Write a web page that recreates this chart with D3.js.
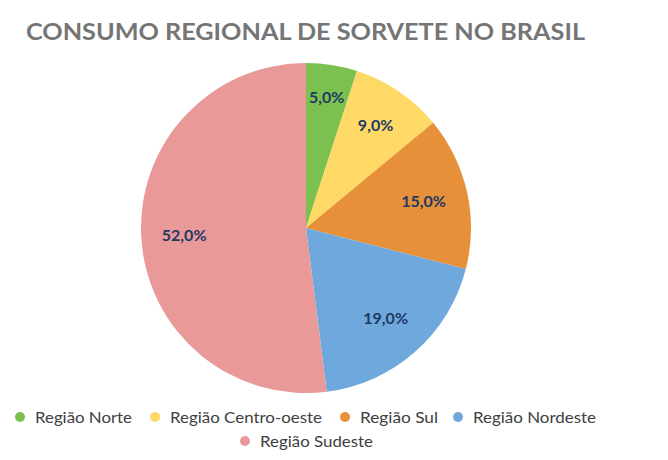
<!DOCTYPE html>
<html><head><meta charset="utf-8">
<script src="https://cdn.jsdelivr.net/npm/d3@7"></script>
<style>body{margin:0;background:#fff}svg{display:block}</style>
</head><body>
<script>
const categories = ["Região Norte","Região Centro-oeste","Região Sul","Região Nordeste","Região Sudeste"];
const values = [5.0, 9.0, 15.0, 19.0, 52.0];
const colors = ["#7cc04f","#ffd966","#e6913a","#6fa8dc","#ea9999"];
const title = "CONSUMO REGIONAL DE SORVETE NO BRASIL";

const W=668,H=460;
const svg=d3.select("body").append("svg").attr("width",W).attr("height",H);
svg.append("text").attr("x",26).attr("y",39.5).text(title)
  .attr("font-family","Lato, 'Open Sans', sans-serif").attr("font-weight","bold")
  .attr("font-size",23.5).attr("fill","#757575").attr("textLength",559).attr("lengthAdjust","spacingAndGlyphs");

const cx=306,cy=228,r=165;
const labelR=[0.80,0.75,0.73,0.73,0.74]; // layout: label radius fraction per slice
const data=categories.map((c,i)=>({c,v:values[i],col:colors[i],lr:labelR[i]}));
const pie=d3.pie().value(d=>d.v).sort(null);
const arc=d3.arc().innerRadius(0).outerRadius(r);
const g=svg.append("g").attr("transform",`translate(${cx},${cy})`);
const arcs=pie(data);
g.selectAll("path").data(arcs).join("path").attr("d",arc).attr("fill",d=>d.data.col);
const fmt=v=>v.toFixed(1).replace(".",",")+"%";
g.selectAll("text").data(arcs).join("text")
  .attr("transform",d=>{const a=d3.arc().innerRadius(r*d.data.lr).outerRadius(r*d.data.lr);return `translate(${a.centroid(d)})`;})
  .attr("text-anchor","middle").attr("dy","0.36em")
  .attr("font-family","Lato, 'Open Sans', sans-serif").attr("font-weight","bold")
  .attr("font-size",16).attr("fill","#203864").text(d=>fmt(d.data.v));

// legend layout (pixel positions and text widths)
const leg=[{x:20,y:417,w:97},{x:155,y:417,w:152},{x:345,y:417,w:78},{x:458,y:417,w:123},{x:245,y:441,w:113}];
const lg=svg.append("g");
data.forEach((d,i)=>{
  const p=leg[i];
  lg.append("circle").attr("cx",p.x).attr("cy",p.y).attr("r",5).attr("fill",d.col);
  lg.append("text").attr("x",p.x+15).attr("y",p.y).attr("dy","0.36em")
    .attr("font-family","Lato, 'Open Sans', sans-serif").attr("font-size",16).attr("fill","#404040")
    .attr("textLength",p.w).attr("lengthAdjust","spacingAndGlyphs").text(d.c);
});
</script>
</body></html>
